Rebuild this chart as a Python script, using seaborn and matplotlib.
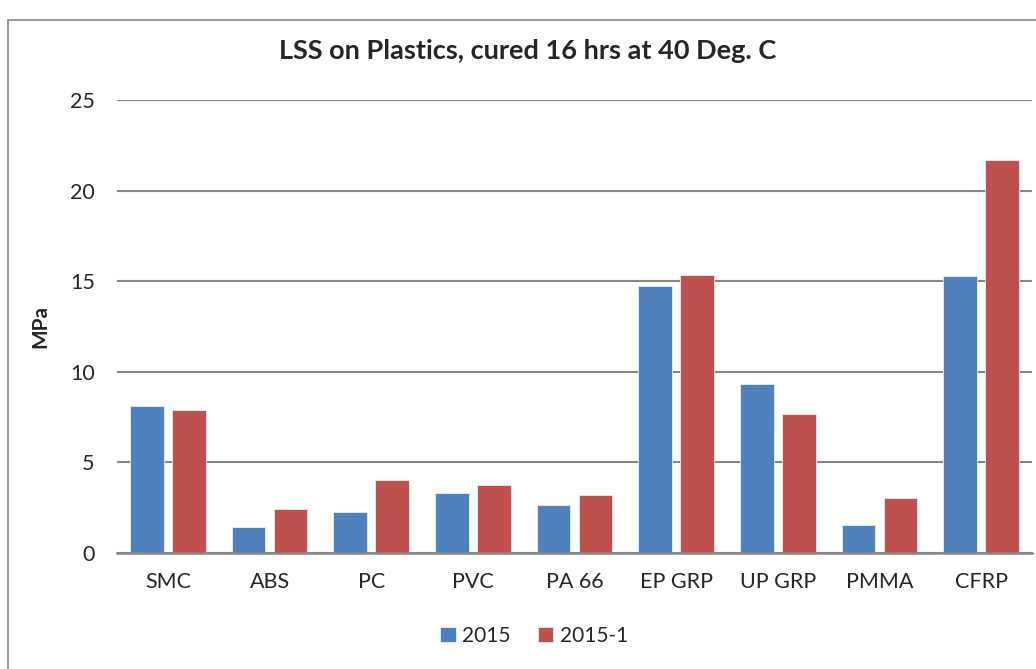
import pandas as pd
import seaborn as sns
import matplotlib.pyplot as plt
from matplotlib.patches import Rectangle

# dati
materials = ["SMC", "ABS", "PC", "PVC", "PA 66", "EP GRP", "UP GRP", "PMMA", "CFRP"]
lss_2015 = [8.08, 1.43, 2.24, 3.27, 2.63, 14.73, 9.29, 1.51, 15.28]
lss_2015_1 = [7.90, 2.41, 4.00, 3.73, 3.18, 15.34, 7.66, 3.01, 21.69]
series = ["2015", "2015-1"]
colors = ["#4F81BD", "#C0504D"]

df = pd.DataFrame({
    "material": materials * 2,
    "MPa": lss_2015 + lss_2015_1,
    "serie": [series[0]] * len(materials) + [series[1]] * len(materials),
})

sns.set_style("white")
plt.rcParams["font.family"] = ["Lato", "DejaVu Sans"]

fig = plt.figure(figsize=(10.36, 6.69), dpi=100)
ax = fig.add_axes([117 / 1036, 1 - 552.7 / 669, (1032 - 117) / 1036, (552.7 - 100) / 669])

sns.barplot(
    data=df, x="material", y="MPa", hue="serie",
    palette=colors, saturation=1, width=0.83, gap=0.2, ax=ax,
    edgecolor="#e8eef7", linewidth=0.6, legend=True,
)

ax.set_ylim(0, 25)
ax.set_xlim(-0.5, len(materials) - 0.5)
ax.set_yticks(range(0, 26, 5))
ax.yaxis.grid(True, color="#868686", linewidth=1.5)
ax.set_axisbelow(True)
for s in ["top", "right", "left"]:
    ax.spines[s].set_visible(False)
ax.spines["bottom"].set_color("#868686")
ax.spines["bottom"].set_linewidth(1.8)
ax.tick_params(axis="both", length=0, labelsize=15.5)
ax.tick_params(axis="y", pad=16)
ax.tick_params(axis="x", pad=14)
ax.set_xlabel("")
ax.set_ylabel("MPa", fontsize=15, fontweight="bold", labelpad=14)

fig.text(528 / 1036, 1 - 51 / 669, "LSS on Plastics, cured 16 hrs at 40 Deg. C",
         ha="center", va="center", fontsize=19.5, fontweight="bold")

handles, labels = ax.get_legend_handles_labels()
ax.legend_.remove()
fig.legend(handles, labels, loc="center", bbox_to_anchor=(534 / 1036, 1 - 636 / 669),
           ncol=2, frameon=False, fontsize=15, handlelength=0.75, handleheight=0.75,
           handletextpad=0.3, columnspacing=1.3)

# cornice grigia del grafico
fig.patches.append(Rectangle((8 / 1036, -0.1), 1.2, 1.1 - 20 / 669, transform=fig.transFigure,
                             fill=False, edgecolor="#868686", linewidth=1.2))

fig.savefig("out.png", dpi=100)
